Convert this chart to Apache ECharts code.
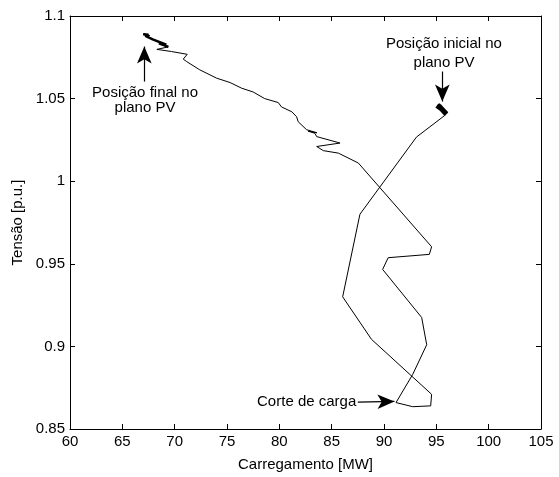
<!DOCTYPE html>
<html>
<head>
<meta charset="utf-8">
<script src="https://cdn.jsdelivr.net/npm/echarts@6/dist/echarts.min.js"></script>
<style>
  html, body { margin: 0; padding: 0; background: #fff; }
  #main { width: 559px; height: 477px; }
</style>
</head>
<body>
<div id="main"></div>
<script>
// trajetoria no plano PV (carregamento MW, tensao p.u.)
var startBlob = [[95.05, 1.0458], [95.5, 1.0437], [95.95, 1.0408], [95.3, 1.0452], [95.85, 1.0413], [95.15, 1.0462], [95.7, 1.0425], [95.95, 1.0405]];
var path = [
  [95.95, 1.0405], [93.1, 1.0267], [87.7, 0.980], [86.05, 0.930], [88.8, 0.9043],
  [94.55, 0.871], [94.46, 0.864], [92.74, 0.8635], [91.15, 0.866], [92.74, 0.883],
  [94.08, 0.901], [93.6, 0.9175], [89.87, 0.9466], [90.4, 0.9537], [94.33, 0.9557],
  [94.55, 0.9603], [87.55, 1.011], [85.64, 1.017], [84.2, 1.0185], [83.57, 1.021],
  [85.8, 1.0231], [83.57, 1.027], [83.4, 1.029], [82.75, 1.0303], [83.6, 1.0293],
  [82.6, 1.0312], [81.8, 1.036], [81.65, 1.039], [81.2, 1.042], [80.2, 1.045],
  [79.9, 1.0476], [78.6, 1.050], [77.5, 1.054], [76.4, 1.0563], [75.3, 1.0597],
  [74.0, 1.0624], [72.4, 1.0674], [71.15, 1.0724], [70.82, 1.0739], [71.2, 1.0768],
  [69.7, 1.0785], [68.3, 1.0798], [69.4, 1.0813]
];
var endBlob = [[69.4, 1.0813], [68.5, 1.0835], [69.2, 1.0826], [67.9, 1.0858], [67.2, 1.0879], [67.5, 1.0886], [67.0, 1.089], [67.6, 1.0876], [67.3, 1.0885]];

var xTicks = { min: 60, max: 105, step: 5 };
var yTicks = { min: 0.85, max: 1.1, step: 0.05 };

// anotacoes: texto, posicao do texto e seta (coordenadas de dados)
var notes = [
  { text: 'Posição inicial no\nplano PV', at: [95.73, 1.0774], align: 'center', lh: 19, from: [95.57, 1.0664], to: [95.57, 1.0482] },
  { text: 'Posição final no\nplano PV', at: [67.17, 1.0491], align: 'center', lh: 15, from: [67.1, 1.0603], to: [67.1, 1.0815] },
  { text: 'Corte de carga', at: [87.35, 0.8666], align: 'right', lh: 16, from: [87.5, 0.8663], to: [91.0, 0.8667] }
];

var font = '"Liberation Sans", Arial, sans-serif';
var chart = echarts.init(document.getElementById('main'));

function axisBase(extra) {
  var a = {
    type: 'value',
    axisLine: { show: true, onZero: false, lineStyle: { color: '#000', width: 1 } },
    axisTick: { show: true, inside: true, length: 5, lineStyle: { color: '#000' } },
    splitLine: { show: false },
    axisLabel: { show: false }
  };
  return Object.assign(a, extra);
}

var arrowLines = notes.map(function (n) {
  return [{ coord: n.from }, { coord: n.to }];
});

var option = {
  animation: false,
  textStyle: { fontFamily: font },
  grid: { left: 70, right: 18, top: 16, bottom: 47 },
  xAxis: [
    axisBase({
      position: 'bottom', min: xTicks.min, max: xTicks.max, interval: xTicks.step,
      name: 'Carregamento [MW]', nameLocation: 'middle', nameGap: 28,
      nameTextStyle: { color: '#000', fontSize: 15, fontFamily: font },
      axisLabel: { show: true, color: '#000', fontSize: 15, margin: 5, fontFamily: font }
    }),
    axisBase({ position: 'top', min: xTicks.min, max: xTicks.max, interval: xTicks.step })
  ],
  yAxis: [
    axisBase({
      position: 'left', min: yTicks.min, max: yTicks.max, interval: yTicks.step,
      name: 'Tensão [p.u.]', nameLocation: 'middle', nameGap: 34,
      nameTextStyle: { color: '#000', fontSize: 15, fontFamily: font },
      axisLabel: { show: true, color: '#000', fontSize: 15, margin: 5, fontFamily: font,
        formatter: function (v) { return String(+v.toFixed(2)); } }
    }),
    axisBase({ position: 'right', min: yTicks.min, max: yTicks.max, interval: yTicks.step })
  ],
  series: [
    {
      type: 'line', data: path, showSymbol: false, symbol: 'none',
      lineStyle: { color: '#000', width: 1 },
      markLine: {
        silent: true, symbol: ['none', 'arrow'], symbolSize: [11, 17],
        label: { show: false },
        lineStyle: { color: '#000', width: 1.2, type: 'solid' },
        data: arrowLines
      }
    },
    { type: 'line', data: startBlob, symbol: 'none', lineStyle: { color: '#000', width: 5 } },
    { type: 'line', data: endBlob, symbol: 'none', lineStyle: { color: '#000', width: 2.5 } }
  ]
};
chart.setOption(option);

chart.setOption({
  graphic: notes.map(function (n) {
    var p = chart.convertToPixel({ xAxisIndex: 0, yAxisIndex: 0 }, n.at);
    return {
      type: 'text', x: p[0], y: p[1], silent: true,
      style: {
        text: n.text, fill: '#000', font: '15px ' + font,
        align: n.align, verticalAlign: 'middle', lineHeight: n.lh
      }
    };
  })
});
</script>
</body>
</html>
